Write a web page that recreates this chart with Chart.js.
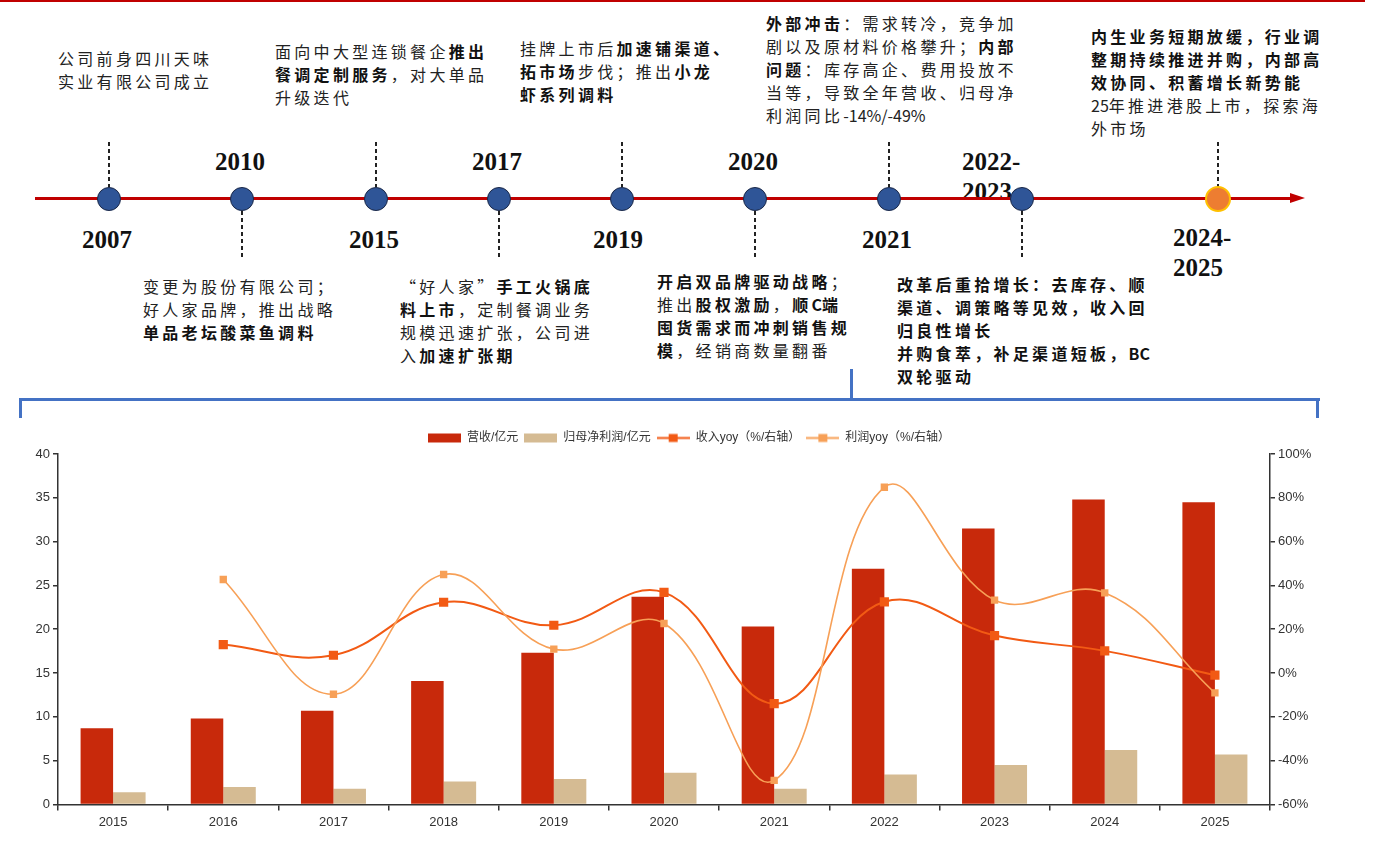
<!DOCTYPE html>
<html lang="zh-CN">
<head>
<meta charset="utf-8">
<title>天味食品发展历程与经营数据</title>
<script src="https://cdn.jsdelivr.net/npm/chart.js@4.4.1/dist/chart.umd.min.js"></script>
<style>
  html, body { margin: 0; padding: 0; background: #fff; }
  body { width: 1378px; height: 859px; position: relative; overflow: hidden; font-family: "Noto Sans CJK SC", sans-serif; }
  .topline { position: absolute; left: 0; top: 0; width: 1365px; height: 2px; background: #c00000; }
  .axis { position: absolute; left: 35px; top: 197px; width: 1258px; height: 3px; background: #c00000; }
  .arrow { position: absolute; left: 1290px; top: 193px; width: 0; height: 0;
           border-left: 15px solid #c00000; border-top: 5.5px solid transparent; border-bottom: 5.5px solid transparent; }
  .dot { position: absolute; top: 199px; width: 22px; height: 22px; border-radius: 50%; box-sizing: content-box;
         background: #2f5597; border: 1.5px solid #1b2847; transform: translate(-50%, -50%); }
  .dot.now { background: #ed7d31; border: 2px solid #ffc000; }
  .dash { position: absolute; width: 1.5px; background: repeating-linear-gradient(to bottom, #222 0 4px, transparent 4px 7px); }
  .year { position: absolute; font-family: "Liberation Serif", serif; font-weight: bold; font-size: 25px; line-height: 30px; color: #111; }
  .note { position: absolute; font-size: 16px; letter-spacing: 3.3px; line-height: 23px; color: #222; white-space: nowrap; }
  .note b { font-weight: 700; color: #111; }
  .note .l { letter-spacing: 0; }
  .bl { position: absolute; background: #4472c4; }
  #chartBox { position: absolute; left: 0; top: 425px; width: 1378px; height: 420px; }
</style>
</head>
<body>
<div class="topline"></div>

<!-- year labels sit under the axis line -->
<div class="year" style="left:82px;top:225px">2007</div>
<div class="year" style="left:215px;top:147px">2010</div>
<div class="year" style="left:349px;top:225px">2015</div>
<div class="year" style="left:472px;top:147px">2017</div>
<div class="year" style="left:593px;top:225px">2019</div>
<div class="year" style="left:728px;top:147px">2020</div>
<div class="year" style="left:862px;top:225px">2021</div>
<div class="year" style="left:962px;top:147px">2022-<br>2023</div>
<div class="year" style="left:1173px;top:223px">2024-<br>2025</div>

<!-- dashed leaders -->
<div class="dash" style="left:108px;top:142px;height:45px"></div>
<div class="dash" style="left:375px;top:142px;height:45px"></div>
<div class="dash" style="left:621px;top:142px;height:45px"></div>
<div class="dash" style="left:888px;top:142px;height:45px"></div>
<div class="dash" style="left:1217px;top:142px;height:45px"></div>
<div class="dash" style="left:241px;top:211px;height:47px"></div>
<div class="dash" style="left:498px;top:211px;height:47px"></div>
<div class="dash" style="left:754px;top:211px;height:47px"></div>
<div class="dash" style="left:1021px;top:211px;height:47px"></div>

<!-- timeline axis and milestones -->
<div class="axis"></div>
<div class="arrow"></div>
<div class="dot" style="left:109px"></div>
<div class="dot" style="left:242px"></div>
<div class="dot" style="left:376px"></div>
<div class="dot" style="left:499px"></div>
<div class="dot" style="left:622px"></div>
<div class="dot" style="left:755px"></div>
<div class="dot" style="left:889px"></div>
<div class="dot" style="left:1022px"></div>
<div class="dot now" style="left:1218px"></div>

<!-- notes above the axis -->
<div class="note" style="left:58px;top:47px">公司前身四川天味<br>实业有限公司成立</div>
<div class="note" style="left:275px;top:40px">面向中大型连锁餐企<b>推出</b><br><b>餐调定制服务</b>，对大单品<br>升级迭代</div>
<div class="note" style="left:520px;top:37px">挂牌上市后<b>加速铺渠道、</b><br><b>拓市场</b>步伐；推出<b>小龙</b><br><b>虾系列调料</b></div>
<div class="note" style="left:766px;top:12px"><b>外部冲击</b>：需求转冷，竞争加<br>剧以及原材料价格攀升；<b>内部</b><br><b>问题</b>：库存高企、费用投放不<br>当等，导致全年营收、归母净<br>利润同比<span class="l">-14%/-49%</span></div>
<div class="note" style="left:1091px;top:25px"><b>内生业务短期放缓，行业调<br>整期持续推进并购，内部高<br>效协同、积蓄增长新势能</b><br><span class="l">25</span>年推进港股上市，探索海<br>外市场</div>

<!-- notes below the axis -->
<div class="note" style="left:143px;top:275px">变更为股份有限公司；<br>好人家品牌，推出战略<br><b>单品老坛酸菜鱼调料</b></div>
<div class="note" style="left:400px;top:275px">“好人家”<b>手工火锅底</b><br><b>料上市</b>，定制餐调业务<br>规模迅速扩张，公司进<br>入<b>加速扩张期</b></div>
<div class="note" style="left:657px;top:270px"><b>开启双品牌驱动战略</b>；<br>推出<b>股权激励</b>，<b>顺<span class="l">C</span>端</b><br><b>囤货需求而冲刺销售规</b><br><b>模</b>，经销商数量翻番</div>
<div class="note" style="left:897px;top:273px"><b>改革后重拾增长：去库存、顺<br>渠道、调策略等见效，收入回<br>归良性增长<br>并购食萃，补足渠道短板，<span class="l">BC</span><br>双轮驱动</b></div>

<!-- bracket over the chart -->
<div class="bl" style="left:19px;top:398px;width:1301px;height:3px"></div>
<div class="bl" style="left:19px;top:398px;width:3px;height:20px"></div>
<div class="bl" style="left:1316px;top:398px;width:3px;height:20px"></div>
<div class="bl" style="left:850px;top:369px;width:3px;height:31px"></div>

<div id="chartBox"><canvas id="finChart"></canvas></div>

<script>
// Annual figures, 2015-2025
const years = ['2015', '2016', '2017', '2018', '2019', '2020', '2021', '2022', '2023', '2024', '2025'];
const revenue = [8.7, 9.8, 10.7, 14.1, 17.3, 23.7, 20.3, 26.9, 31.5, 34.8, 34.5];      // 亿元
const netProfit = [1.4, 2.0, 1.8, 2.6, 2.9, 3.6, 1.8, 3.4, 4.5, 6.2, 5.7];             // 亿元
const revenueYoy = [null, 13.0, 8.1, 32.3, 21.8, 36.8, -14, 32.5, 17.1, 10.1, -1.0];  // %
const profitYoy = [null, 42.7, -9.7, 45.0, 10.9, 22.6, -49, 84.8, 33.3, 36.6, -9.1];  // %

const seriesNames = ['营收/亿元', '归母净利润/亿元', '收入yoy（%/右轴）', '利润yoy（%/右轴）'];

const RED = '#c8290b';
const TAN = '#d5bb93';
const ORANGE = '#f25a14';
const LIGHT_ORANGE = '#f7a057';
const INK = '#333';
const tickFont = { family: '"Liberation Sans", Arial, sans-serif', size: 13 };

// small legend swatches: a block for bars, a line with a square for lines
function swatch(kind, color) {
    const c = document.createElement('canvas');
    c.width = 33;
    c.height = 11;
    const g = c.getContext('2d');
    if (kind === 'bar') {
        g.fillStyle = color;
        g.fillRect(0, 1, 33, 9);
    } else {
        g.strokeStyle = color;
        g.lineWidth = 2;
        g.beginPath();
        g.moveTo(0, 5.5);
        g.lineTo(33, 5.5);
        g.stroke();
        g.fillStyle = color;
        g.fillRect(12, 1.5, 9, 8);
    }
    return c;
}
const swatches = [swatch('bar', RED), swatch('bar', TAN), swatch('line', ORANGE), swatch('line', LIGHT_ORANGE)];

const ctx = document.getElementById('finChart').getContext('2d');
const finChart = new Chart(ctx, {
    type: 'bar',
    data: {
        labels: years,
        datasets: [
            {
                label: seriesNames[0],
                data: revenue,
                backgroundColor: RED,
                yAxisID: 'y',
                order: 2,
                categoryPercentage: 0.59,
                barPercentage: 1.0
            },
            {
                label: seriesNames[1],
                data: netProfit,
                backgroundColor: TAN,
                yAxisID: 'y',
                order: 2,
                categoryPercentage: 0.59,
                barPercentage: 1.0
            },
            {
                label: seriesNames[2],
                type: 'line',
                data: revenueYoy,
                borderColor: ORANGE,
                backgroundColor: ORANGE,
                borderWidth: 2,
                pointStyle: 'rect',
                pointRadius: 6.5,
                pointBorderWidth: 0,
                tension: 0.4,
                fill: false,
                yAxisID: 'y1',
                order: 1
            },
            {
                label: seriesNames[3],
                type: 'line',
                data: profitYoy,
                borderColor: LIGHT_ORANGE,
                backgroundColor: LIGHT_ORANGE,
                borderWidth: 1.6,
                pointStyle: 'rect',
                pointRadius: 5.2,
                pointBorderWidth: 0,
                tension: 0.4,
                fill: false,
                yAxisID: 'y1',
                order: 0
            }
        ]
    },
    options: {
        responsive: true,
        maintainAspectRatio: false,
        animation: false,
        layout: { padding: { top: 1, bottom: 11 } },
        plugins: {
            tooltip: { enabled: false },
            legend: {
                position: 'top',
                labels: {
                    usePointStyle: true,
                    pointStyleWidth: 33,
                    boxHeight: 9,
                    padding: 6,
                    color: INK,
                    font: { family: '"Liberation Sans", "Noto Sans CJK SC", sans-serif', size: 12 },
                    sort: (a, b) => a.datasetIndex - b.datasetIndex,
                    generateLabels: function(chart) {
                        const items = Chart.defaults.plugins.legend.labels.generateLabels(chart);
                        items.forEach(item => { item.pointStyle = swatches[item.datasetIndex]; });
                        return items;
                    }
                }
            }
        },
        scales: {
            x: {
                grid: { drawOnChartArea: false, drawTicks: true, tickLength: 6, color: INK, lineWidth: 1.5 },
                border: { color: INK, width: 1.5 },
                ticks: { font: tickFont, color: INK, padding: 4 }
            },
            y: {
                position: 'left',
                min: 0,
                max: 40,
                ticks: { stepSize: 5, font: tickFont, color: INK, padding: 3 },
                grid: { drawOnChartArea: false, tickLength: 5, color: INK, lineWidth: 1.5 },
                border: { color: INK, width: 1.5 },
                afterFit: function(scale) { scale.width = 58; }
            },
            y1: {
                position: 'right',
                min: -60,
                max: 100,
                ticks: {
                    stepSize: 20,
                    font: tickFont,
                    color: INK,
                    padding: 3,
                    callback: function(value) { return value + '%'; }
                },
                grid: { drawOnChartArea: false, tickLength: 5, color: INK, lineWidth: 1.5 },
                border: { color: INK, width: 1.5 },
                afterFit: function(scale) { scale.width = 108; }
            }
        }
    }
});
</script>
</body>
</html>
